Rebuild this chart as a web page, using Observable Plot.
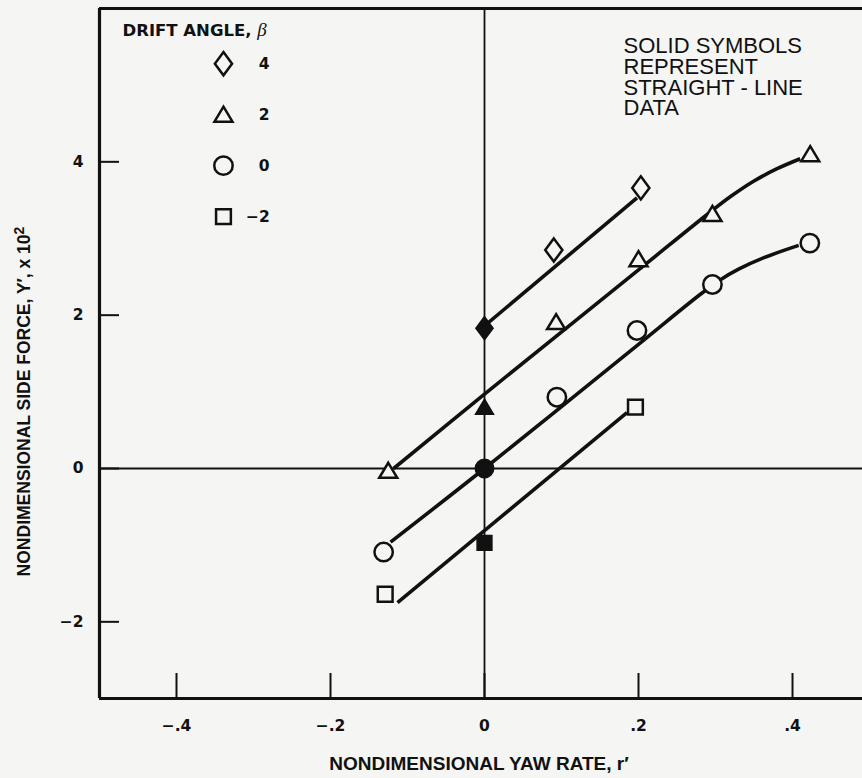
<!DOCTYPE html>
<html>
<head>
<meta charset="utf-8">
<script src="https://cdn.jsdelivr.net/npm/d3@7"></script>
<script src="https://cdn.jsdelivr.net/npm/@observablehq/plot@0.6"></script>
<style>
  html, body { margin: 0; padding: 0; background: #f5f5f3; overflow: hidden; }
  #chart svg { display: block; }
</style>
</head>
<body>
<div id="chart"></div>
<script>
// Drift angles shown in the key, top to bottom
const driftAngles = [4, 2, 0, -2];

// Measured side force Y' (x 10^2) against yaw rate r'; solid = straight-line run
const yawB4 = [0, 0.09, 0.203];
const forceB4 = [1.83, 2.85, 3.66];
const solidB4 = [true, false, false];

const yawB2 = [-0.125, 0, 0.093, 0.2, 0.296, 0.423];
const forceB2 = [-0.03, 0.80, 1.91, 2.73, 3.32, 4.10];
const solidB2 = [false, true, false, false, false, false];

const yawB0 = [-0.131, 0, 0.094, 0.198, 0.296, 0.4225];
const forceB0 = [-1.09, 0, 0.93, 1.80, 2.40, 2.94];
const solidB0 = [false, true, false, false, false, false];

const yawBm2 = [-0.129, 0, 0.196];
const forceBm2 = [-1.64, -0.97, 0.80];
const solidBm2 = [false, true, false];

// Faired curves through each set
const fairYawB4 = [0, 0.198];
const fairForceB4 = [1.86, 3.53];
const fairYawB2 = [-0.118, 0, 0.2, 0.29, 0.32, 0.35, 0.38, 0.41];
const fairForceB2 = [0.0, 0.97, 2.59, 3.32, 3.55, 3.75, 3.91, 4.04];
const fairYawB0 = [-0.122, 0, 0.2, 0.28, 0.306, 0.33, 0.363, 0.408];
const fairForceB0 = [-0.96, 0, 1.62, 2.27, 2.46, 2.60, 2.75, 2.91];
const fairYawBm2 = [-0.113, 0.185];
const fairForceBm2 = [-1.75, 0.73];

// Axis ticks
const xTicks = [-0.4, -0.2, 0, 0.2, 0.4];
const yTicks = [-2, 0, 2, 4];

const noteText = "SOLID SYMBOLS\nREPRESENT\nSTRAIGHT - LINE\nDATA";
const keyTitle = "DRIFT ANGLE, β";
const xTitle = "NONDIMENSIONAL YAW RATE, r′";
const yTitle = "NONDIMENSIONAL SIDE FORCE, Y′, x 10²";

// Build tidy tables from the arrays above
const series = [
  {beta: 4, yaw: yawB4, force: forceB4, solid: solidB4, fy: fairYawB4, ff: fairForceB4},
  {beta: 2, yaw: yawB2, force: forceB2, solid: solidB2, fy: fairYawB2, ff: fairForceB2},
  {beta: 0, yaw: yawB0, force: forceB0, solid: solidB0, fy: fairYawB0, ff: fairForceB0},
  {beta: -2, yaw: yawBm2, force: forceBm2, solid: solidBm2, fy: fairYawBm2, ff: fairForceBm2}
];
const points = series.flatMap(s => s.yaw.map((r, i) => ({beta: s.beta, r, y: s.force[i], solid: s.solid[i]})));
const curves = series.flatMap(s => s.fy.map((r, i) => ({beta: s.beta, r, y: s.ff[i]})));

// Symbol shapes
const diamondSym = {draw(c) { c.moveTo(0, -11.6); c.lineTo(8.6, 0); c.lineTo(0, 11.6); c.lineTo(-8.6, 0); c.closePath(); }};
const triangleSym = {draw(c) { c.moveTo(0, -8); c.lineTo(9, 7); c.lineTo(-9, 7); c.closePath(); }};
const circleSym = {draw(c) { c.moveTo(9.2, 0); c.arc(0, 0, 9.2, 0, 2 * Math.PI); c.closePath(); }};
const squareSym = {draw(c) { c.moveTo(-7.4, -7.4); c.lineTo(7.4, -7.4); c.lineTo(7.4, 7.4); c.lineTo(-7.4, 7.4); c.closePath(); }};

const ink = "#111";
const paper = "#f5f5f3";
const minus = s => String(s).replace("-", "\u2212");
const fmtX = d => d === 0 ? "0" : minus(d3.format(".1f")(d).replace("0.", "."));

// Key placement (data units inside the frame)
const keyX = -0.339;
const keyLabelX = -0.279;
const keyY = i => 5.28 - i * 0.665;
const keyItems = driftAngles.map((beta, i) => ({beta, i}));

const W = 862, H = 778, mL = 99, mR = 0, mT = 8, mB = 80;
const plotW = W - mL - mR, plotH = H - mT - mB;
const font = "'Liberation Sans', Arial, Helvetica, sans-serif";
const wideBold = "'DejaVu Sans', 'Liberation Sans', sans-serif";

const chart = Plot.plot({
  width: W,
  height: H,
  marginLeft: mL,
  marginRight: mR,
  marginTop: mT,
  marginBottom: mB,
  style: {background: "transparent", fontFamily: font, fontSize: "17px", fontWeight: "bold", color: ink},
  x: {domain: [-0.5, 0.4909]},
  y: {domain: [-3, 6]},
  symbol: {domain: driftAngles, range: [diamondSym, triangleSym, circleSym, squareSym]},
  marks: [
    // tick labels
    Plot.axisX(xTicks, {tickSize: 0, tickPadding: 21, tickFormat: fmtX, fontFamily: wideBold, fontSize: 15.5, fontWeight: "bold", fill: ink, label: null}),
    Plot.axisY(yTicks, {tickSize: 0, tickPadding: 16, tickFormat: minus, fontFamily: wideBold, fontSize: 15.5, fontWeight: "bold", fill: ink, label: null}),
    // zero axes
    Plot.ruleX([0], {stroke: ink, strokeWidth: 1.8}),
    Plot.ruleY([0], {stroke: ink, strokeWidth: 1.8}),
    // inward ticks
    Plot.ruleY(yTicks, {stroke: ink, strokeWidth: 2, insetRight: plotW - 20}),
    Plot.ruleX(xTicks, {stroke: ink, strokeWidth: 2, insetTop: plotH - 25}),
    // frame: left, bottom, top
    Plot.ruleX([-0.5], {stroke: ink, strokeWidth: 3.2}),
    Plot.ruleY([-3], {stroke: ink, strokeWidth: 3.2}),
    Plot.ruleY([6], {stroke: ink, strokeWidth: 3}),
    // faired curves
    Plot.line(curves, {x: "r", y: "y", z: "beta", curve: "catmull-rom", stroke: ink, strokeWidth: 3.6, strokeLinecap: "butt"}),
    // data symbols
    Plot.dot(points.filter(d => !d.solid), {x: "r", y: "y", symbol: "beta", fill: paper, stroke: ink, strokeWidth: 2.5}),
    Plot.dot(points.filter(d => d.solid), {x: "r", y: "y", symbol: "beta", fill: ink, stroke: ink, strokeWidth: 1.5}),
    // key
    Plot.text([keyTitle], {frameAnchor: "top-left", dx: 23, dy: 22, textAnchor: "start", lineAnchor: "middle", fontFamily: wideBold, fontSize: 16.5, fontWeight: "bold", fill: ink}),
    Plot.dot(keyItems, {x: () => keyX, y: d => keyY(d.i), symbol: "beta", fill: paper, stroke: ink, strokeWidth: 2.5}),
    Plot.text(keyItems, {x: () => keyLabelX, y: d => keyY(d.i), text: d => minus(d.beta), textAnchor: "end", fontFamily: wideBold, fontSize: 15.5, fontWeight: "bold", fill: ink}),
    // note
    Plot.text([noteText], {frameAnchor: "top-left", dx: 524, dy: 30, textAnchor: "start", lineAnchor: "top", lineHeight: 0.94, fontSize: 22, fontWeight: "normal", fill: ink}),
    // axis titles
    Plot.text([xTitle], {frameAnchor: "bottom", dx: -2, dy: 65, textAnchor: "middle", lineAnchor: "middle", fontSize: 19, fontWeight: "bold", fill: ink}),
    Plot.text([yTitle], {frameAnchor: "left", dx: -75, dy: 48, rotate: -90, textAnchor: "middle", lineAnchor: "middle", fontSize: 17.5, fontWeight: "bold", fill: ink})
  ]
});

// Typeset the italic beta and the superscript exponent
d3.select(chart).selectAll("text").each(function () {
  const t = this.textContent;
  if (t === keyTitle) {
    this.textContent = "DRIFT ANGLE, ";
    d3.select(this).append("tspan").attr("font-family", "'Liberation Serif', 'Times New Roman', serif")
      .attr("font-style", "italic").attr("font-weight", "normal").attr("font-size", "19px").text("β");
  } else if (t === yTitle) {
    this.textContent = "NONDIMENSIONAL SIDE FORCE, Y′, x 10";
    d3.select(this).append("tspan").attr("dy", "-0.45em").attr("font-size", "0.8em").text("2");
  }
});

document.getElementById("chart").appendChild(chart);
</script>
</body>
</html>
